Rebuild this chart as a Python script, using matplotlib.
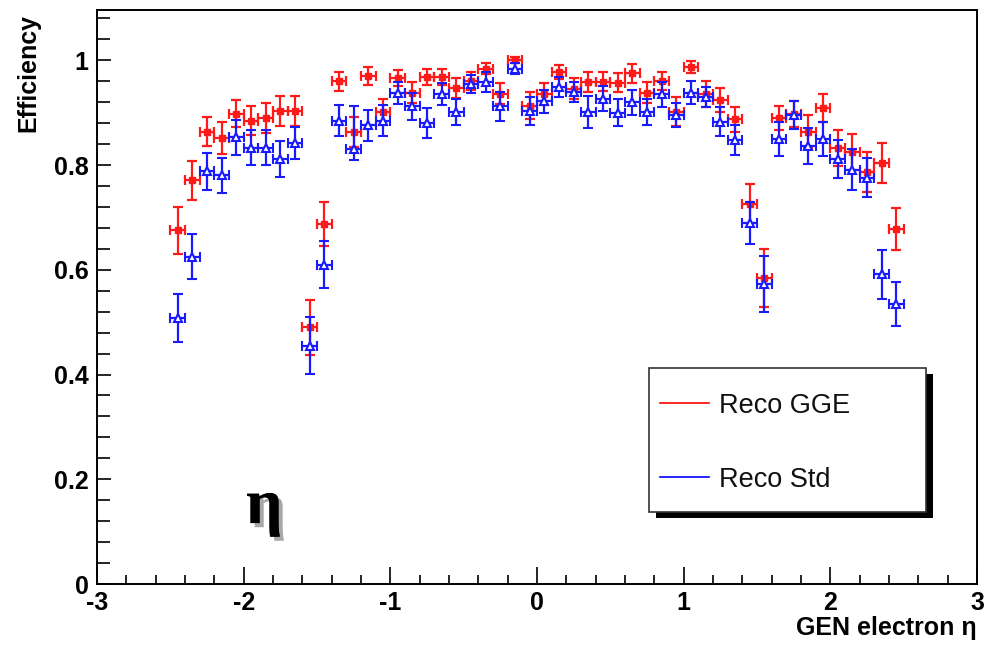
import numpy as np
import matplotlib
matplotlib.use("Agg")
import matplotlib.pyplot as plt
from matplotlib.patches import Rectangle
from matplotlib.lines import Line2D
from matplotlib.ticker import MultipleLocator
import matplotlib.patheffects as pe

# 50 eta bins of width 0.1 between -2.5 and 2.5
bin_edges = np.linspace(-2.5, 2.5, 51)

# Reconstruction efficiency, GGE reconstruction
gge_eff = [0.675, 0.771, 0.864, 0.852, 0.898, 0.885, 0.890, 0.903, 0.903, 0.490,
           0.688, 0.960, 0.863, 0.970, 0.901, 0.966, 0.938, 0.968, 0.968, 0.947,
           0.960, 0.984, 0.936, 1.000, 0.913, 0.936, 0.978, 0.946, 0.959, 0.959,
           0.957, 0.975, 0.938, 0.960, 0.902, 0.987, 0.936, 0.924, 0.887, 0.726,
           0.584, 0.889, 0.897, 0.864, 0.909, 0.832, 0.825, 0.787, 0.804, 0.677]
gge_err = [0.045, 0.037, 0.028, 0.030, 0.026, 0.028, 0.028, 0.028, 0.028, 0.053,
           0.042, 0.018, 0.029, 0.018, 0.025, 0.015, 0.020, 0.016, 0.015, 0.019,
           0.017, 0.010, 0.020, 0.006, 0.026, 0.021, 0.013, 0.020, 0.019, 0.018,
           0.018, 0.018, 0.020, 0.017, 0.027, 0.011, 0.025, 0.023, 0.024, 0.037,
           0.056, 0.023, 0.025, 0.032, 0.026, 0.034, 0.034, 0.038, 0.038, 0.040]

# Reconstruction efficiency, standard reconstruction
std_eff = [0.508, 0.625, 0.788, 0.780, 0.853, 0.833, 0.833, 0.812, 0.842, 0.455,
           0.610, 0.885, 0.830, 0.876, 0.885, 0.938, 0.912, 0.880, 0.935, 0.901,
           0.955, 0.959, 0.912, 0.984, 0.903, 0.922, 0.949, 0.940, 0.901, 0.927,
           0.900, 0.920, 0.901, 0.935, 0.895, 0.938, 0.930, 0.883, 0.848, 0.690,
           0.573, 0.850, 0.895, 0.836, 0.850, 0.812, 0.791, 0.776, 0.591, 0.535]
std_err_low = [0.046, 0.043, 0.035, 0.033, 0.033, 0.033, 0.033, 0.034, 0.031, 0.054,
               0.045, 0.029, 0.020, 0.030, 0.029, 0.021, 0.026, 0.028, 0.021, 0.025,
               0.017, 0.019, 0.027, 0.011, 0.026, 0.022, 0.020, 0.019, 0.030, 0.023,
               0.026, 0.024, 0.025, 0.024, 0.023, 0.022, 0.019, 0.027, 0.029, 0.040,
               0.054, 0.033, 0.027, 0.034, 0.032, 0.036, 0.039, 0.038, 0.047, 0.042]
std_err_high = [0.046, 0.043, 0.035, 0.033, 0.033, 0.033, 0.033, 0.034, 0.031, 0.054,
                0.045, 0.029, 0.082, 0.030, 0.029, 0.021, 0.026, 0.028, 0.021, 0.025,
                0.017, 0.019, 0.027, 0.011, 0.026, 0.022, 0.020, 0.019, 0.030, 0.023,
                0.026, 0.024, 0.025, 0.024, 0.023, 0.022, 0.019, 0.027, 0.029, 0.040,
                0.054, 0.033, 0.027, 0.034, 0.032, 0.036, 0.039, 0.038, 0.047, 0.042]

series_labels = ["Reco GGE", "Reco Std"]
x_ticks = [-3, -2, -1, 0, 1, 2, 3]
y_ticks = [0, 0.2, 0.4, 0.6, 0.8, 1]

eta = 0.5 * (bin_edges[:-1] + bin_edges[1:])
half_width = 0.5 * np.diff(bin_edges)

W, H = 991, 645
fig = plt.figure(figsize=(W / 100, H / 100), dpi=100)
fig.patch.set_facecolor("white")

ax = fig.add_axes([97 / W, 1 - 584 / H, 880 / W, 574 / H])

sans = ["Liberation Sans", "DejaVu Sans"]
lw = 1.6

ax.errorbar(eta, gge_eff, xerr=half_width, yerr=gge_err, fmt="s", color="#ff1a1a",
            ms=4, mec="#ff1a1a", mfc="#ff1a1a", elinewidth=lw, capsize=3.6,
            capthick=lw, zorder=3)
ax.errorbar(eta, std_eff, xerr=half_width, yerr=[std_err_low, std_err_high], fmt="^",
            color="#1a1aff", ms=6, mec="#1a1aff", mfc="white", mew=1.5,
            elinewidth=lw, capsize=3.6, capthick=lw, zorder=4)

ax.set_xlim(-3, 3)
ax.set_ylim(0, 1.096)
ax.set_xticks(x_ticks)
ax.set_xticklabels([str(t) for t in x_ticks])
ax.set_yticks(y_ticks)
ax.set_yticklabels(["0", "0.2", "0.4", "0.6", "0.8", "1"])
ax.xaxis.set_minor_locator(MultipleLocator(0.2))
ax.yaxis.set_minor_locator(MultipleLocator(0.04))

for side in ["top", "right", "left", "bottom"]:
    ax.spines[side].set_linewidth(1.4)
    ax.spines[side].set_color("black")

ax.tick_params(axis="both", which="both", direction="in", top=False, right=False,
               width=1.2, color="black")
ax.tick_params(axis="x", which="major", length=12, pad=5)
ax.tick_params(axis="x", which="minor", length=6.5)
ax.tick_params(axis="y", which="major", length=10, pad=6)
ax.tick_params(axis="y", which="minor", length=9)

for lab in ax.get_xticklabels() + ax.get_yticklabels():
    lab.set_fontfamily(sans)
    lab.set_fontweight("bold")
    lab.set_fontsize(18)

fig.text(28 / W, 1 - 14 / H, "Efficiency", rotation=90, ha="center", va="top",
         fontsize=18, fontweight="bold", family=sans)
fig.text(977 / W, 1 - 628 / H, "GEN electron \u03b7", ha="right", va="center",
         fontsize=18, fontweight="bold", family=sans)

# Large eta label with a grey drop shadow
ax.text(-1.86, 0.145, "\u03b7", ha="center", va="center", fontsize=46,
        fontweight="bold", family=["Liberation Serif", "DejaVu Serif"], color="black",
        path_effects=[pe.withSimplePatchShadow(offset=(3, -3), shadow_rgbFace="#a8a8a8",
                                               alpha=1.0), pe.Normal()])

# Legend box with a solid black shadow
bx0, by0, bx1, by1 = 649, 368, 926, 512
shadow = Rectangle(((bx0 + 7) / W, 1 - (by1 + 6) / H), (bx1 - bx0) / W, (by1 - by0) / H,
                   transform=fig.transFigure, facecolor="black", edgecolor="black",
                   lw=0, zorder=10)
frame = Rectangle((bx0 / W, 1 - by1 / H), (bx1 - bx0) / W, (by1 - by0) / H,
                  transform=fig.transFigure, facecolor="white", edgecolor="#333333",
                  lw=1.2, zorder=11)
fig.add_artist(shadow)
fig.add_artist(frame)

for label, color, yy in zip(series_labels, ["#ff0000", "#0000ff"], [403, 477]):
    fig.add_artist(Line2D([660 / W, 709 / W], [1 - yy / H, 1 - yy / H],
                          transform=fig.transFigure, color=color, lw=1.2, zorder=12))
    fig.text(719 / W, 1 - (yy + 3) / H, label, ha="left", va="center", fontsize=19.5,
             family=sans, color="#111111", zorder=12)

fig.savefig("out.png", dpi=100, facecolor="white")
